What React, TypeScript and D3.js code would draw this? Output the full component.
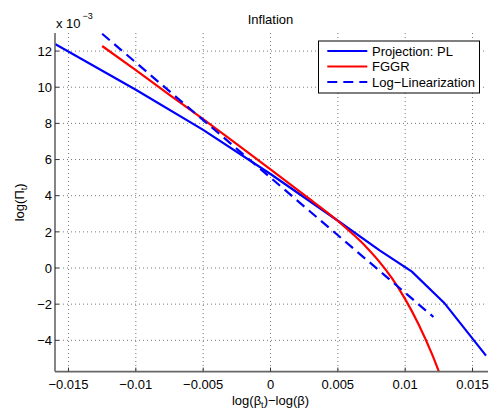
import React from "react";
import * as d3 from "d3";

const W = 489;
const H = 409;

// Data (y in units of 1e-3)
const plX = [-0.016, -0.01, -0.005, 0, 0.0049, 0.0081, 0.0105, 0.0129, 0.016];
const plY = [12.39, 9.86, 7.64, 5.2, 2.67, 0.98, -0.2, -1.93, -4.85];

const fggrX = [-0.0125, -0.01, -0.0075, -0.005, -0.0025, 0, 0.0025, 0.005, 0.006, 0.007, 0.008, 0.009, 0.01, 0.011, 0.012, 0.0125];
const fggrY = [12.28, 10.95, 9.58, 8.23, 6.85, 5.45, 4.04, 2.6, 1.95, 1.25, 0.42, -0.55, -1.72, -3.12, -4.78, -5.73];

const llX = [-0.0125, 0, 0.0121];
const llY = [12.96, 5.0, -2.71];

const xTicks = [-0.015, -0.01, -0.005, 0, 0.005, 0.01, 0.015];
const xTickLabels = ["\u22120.015", "\u22120.01", "\u22120.005", "0", "0.005", "0.01", "0.015"];
const yTicks = [-4, -2, 0, 2, 4, 6, 8, 10, 12];
const yTickLabels = ["\u22124", "\u22122", "0", "2", "4", "6", "8", "10", "12"];

const seriesNames = ["Projection: PL", "FGGR", "Log\u2212Linearization"];
const seriesColors = ["#0000ff", "#ff0000", "#0000ff"];
const seriesDash = [null, null, "10 6"];

export default function App() {
  const left = 55, right = 486, top = 33, bottom = 371.6;
  const x = d3.scaleLinear().domain([-0.016, 0.016]).range([left, right]);
  const y = d3.scaleLinear().domain([-5.73, 13.0]).range([bottom, top]);

  const lineLin = d3
    .line<[number, number]>()
    .x((d) => x(d[0]))
    .y((d) => y(d[1]));
  const lineSmooth = d3
    .line<[number, number]>()
    .x((d) => x(d[0]))
    .y((d) => y(d[1]))
    .curve(d3.curveMonotoneX);

  const zip = (a: number[], b: number[]) => a.map((v, i) => [v, b[i]] as [number, number]);
  const series = [zip(plX, plY), zip(fggrX, fggrY), zip(llX, llY)];
  const gens = [lineLin, lineSmooth, lineLin];

  const font = "'Liberation Sans', Arial, Helvetica, sans-serif";
  const legX = 318.5, legY = 41, legW = 161, legH = 52;
  const legRows = [51, 66.5, 82];

  return (
    <svg
      width={W}
      height={H}
      style={{ position: "absolute", left: 0, top: 0, background: "#fff" }}
      fontFamily={font}
    >
      <rect x={0} y={0} width={W} height={H} fill="#fff" />
      <defs>
        <clipPath id="plotclip">
          <rect x={left} y={top - 2} width={right - left + 2} height={bottom - top + 4} />
        </clipPath>
      </defs>
      {/* grid */}
      {xTicks.map((t) => (
        <line
          key={"gx" + t}
          x1={x(t)}
          x2={x(t)}
          y1={top}
          y2={bottom}
          stroke="#555"
          strokeWidth={0.8}
          strokeDasharray="1 3"
        />
      ))}
      {yTicks.map((t) => (
        <line
          key={"gy" + t}
          x1={left}
          x2={right}
          y1={y(t)}
          y2={y(t)}
          stroke="#555"
          strokeWidth={0.8}
          strokeDasharray="1 3"
        />
      ))}
      {/* series */}
      <g clipPath="url(#plotclip)">
        {series.map((s, i) => (
          <path
            key={"s" + i}
            d={gens[i](s) || ""}
            fill="none"
            stroke={seriesColors[i]}
            strokeWidth={2.2}
            strokeDasharray={seriesDash[i] || undefined}
          />
        ))}
      </g>
      {/* axes */}
      <line x1={left} x2={left} y1={top} y2={bottom} stroke="#666" strokeWidth={1.6} />
      <line x1={left} x2={right + 2} y1={bottom} y2={bottom} stroke="#666" strokeWidth={1.6} />
      {xTicks.map((t, i) => (
        <g key={"xt" + t}>
          <line x1={x(t)} x2={x(t)} y1={bottom} y2={bottom - 4} stroke="#333" strokeWidth={1} />
          <text x={x(t)} y={389} fontSize={13} textAnchor="middle" fill="#000">
            {xTickLabels[i]}
          </text>
        </g>
      ))}
      {yTicks.map((t, i) => (
        <g key={"yt" + t}>
          <line x1={left} x2={left + 4} y1={y(t)} y2={y(t)} stroke="#333" strokeWidth={1} />
          <text x={52} y={y(t) + 4.7} fontSize={13} textAnchor="end" fill="#000">
            {yTickLabels[i]}
          </text>
        </g>
      ))}
      {/* exponent */}
      <text x={56} y={28} fontSize={13} fill="#000">
        x 10
      </text>
      <text x={82.5} y={19} fontSize={9} fill="#000">
        {"\u22123"}
      </text>
      {/* title */}
      <text x={(left + right) / 2} y={24.3} fontSize={13} textAnchor="middle" fill="#000">
        Inflation
      </text>
      {/* x label */}
      <text x={(left + right) / 2} y={404.5} fontSize={13} textAnchor="middle" fill="#000">
        log(β<tspan fontSize={9} dy={3}>t</tspan>
        <tspan dy={-3}>)−log(β)</tspan>
      </text>
      {/* y label */}
      <text
        transform={`translate(24,${(top + bottom) / 2}) rotate(-90)`}
        fontSize={13}
        textAnchor="middle"
        fill="#000"
      >
        log(Π<tspan fontSize={9} dy={3}>t</tspan>
        <tspan dy={-3}>)</tspan>
      </text>
      {/* legend */}
      <rect x={legX} y={legY} width={legW} height={legH} fill="#fff" stroke="#000" strokeWidth={1} />
      {seriesNames.map((n, i) => (
        <g key={"lg" + i}>
          <line
            x1={327.3}
            x2={367.3}
            y1={legRows[i]}
            y2={legRows[i]}
            stroke={seriesColors[i]}
            strokeWidth={2.2}
            strokeDasharray={seriesDash[i] || undefined}
          />
          <text x={372} y={legRows[i] + 4.7} fontSize={13} fill="#000">
            {n}
          </text>
        </g>
      ))}
    </svg>
  );
}
